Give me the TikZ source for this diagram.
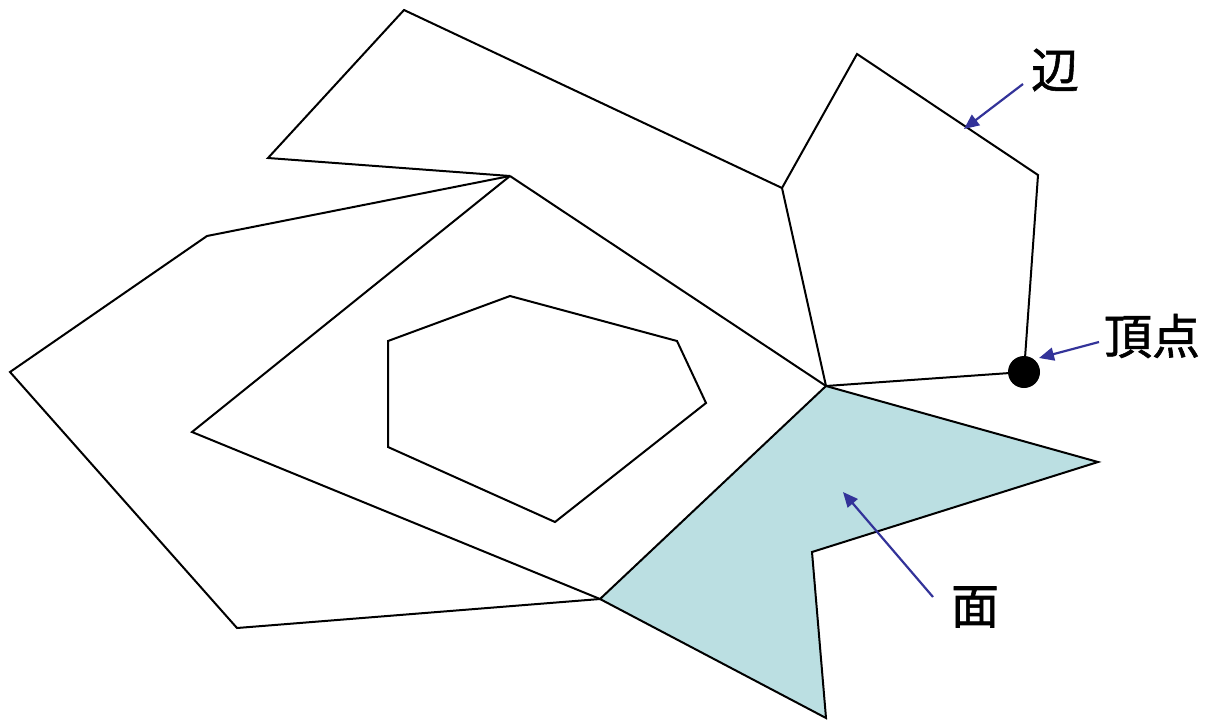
\documentclass[tikz,border=0pt]{standalone}
\usepackage{fontspec}
\newfontfamily\cjk[FakeBold=1.2]{Noto Sans CJK JP}
\usetikzlibrary{arrows.meta}
\definecolor{facefill}{HTML}{BBDFE2}
\definecolor{arrowblue}{HTML}{333399}
\tikzset{
  edge/.style={draw=black, line width=2pt, line join=miter},
  pointer/.style={draw=arrowblue, line width=2.2pt, -{Triangle[length=15pt,width=13pt]}},
  lbl/.style={font=\cjk\fontsize{48}{52}\selectfont, inner sep=0pt},
}
\begin{document}
\begin{tikzpicture}[x=1pt,y=-1pt]
\useasboundingbox (0,0) rectangle (1206,720);
\coordinate (A) at (404,10);
\coordinate (B) at (268,158);
\coordinate (C) at (510,176);
\coordinate (D) at (782,188);
\coordinate (E) at (857,54);
\coordinate (F) at (1038,175);
\coordinate (G) at (1024,372);
\coordinate (H) at (826,386);
\coordinate (I) at (207,236);
\coordinate (J) at (10,372);
\coordinate (K) at (237,628);
\coordinate (L) at (600,599);
\coordinate (M) at (192,432);
\coordinate (N) at (1098,462);
\coordinate (O) at (812,552);
\coordinate (P) at (826,718);
% shaded face
\fill[facefill] (H) -- (N) -- (O) -- (P) -- (L) -- cycle;
\draw[edge] (H) -- (N) -- (O) -- (P) -- (L) -- cycle;
% edges
\draw[edge] (D) -- (A) -- (B) -- (C);
\draw[edge] (H) -- (D) -- (E) -- (F) -- (G) -- (H);
\draw[edge] (C) -- (I) -- (J) -- (K) -- (L);
\draw[edge] (C) -- (M) -- (L);
\draw[edge] (C) -- (H);
% hexagon hole
\draw[edge] (510,296) -- (677,341) -- (706,403) -- (555,522) -- (388,447) -- (388,341) -- cycle;
% vertex dot
\fill[black] (G) circle (16);
% labels
\node[lbl] (lb1) at (1055,70) {辺};
\node[lbl] (lb2) at (1152,336) {頂点};
\node[lbl] (lb3) at (975,607) {面};
\coordinate (t1) at (964,129);
\coordinate (t2) at (1039,358);
\coordinate (t3) at (843,492);
\coordinate (s1) at (1023,84);
\coordinate (s2) at (1099,342);
\coordinate (s3) at (933,597);
\draw[pointer] (s1) -- (t1);
\draw[pointer] (s2) -- (t2);
\draw[pointer] (s3) -- (t3);
\end{tikzpicture}
\end{document}
